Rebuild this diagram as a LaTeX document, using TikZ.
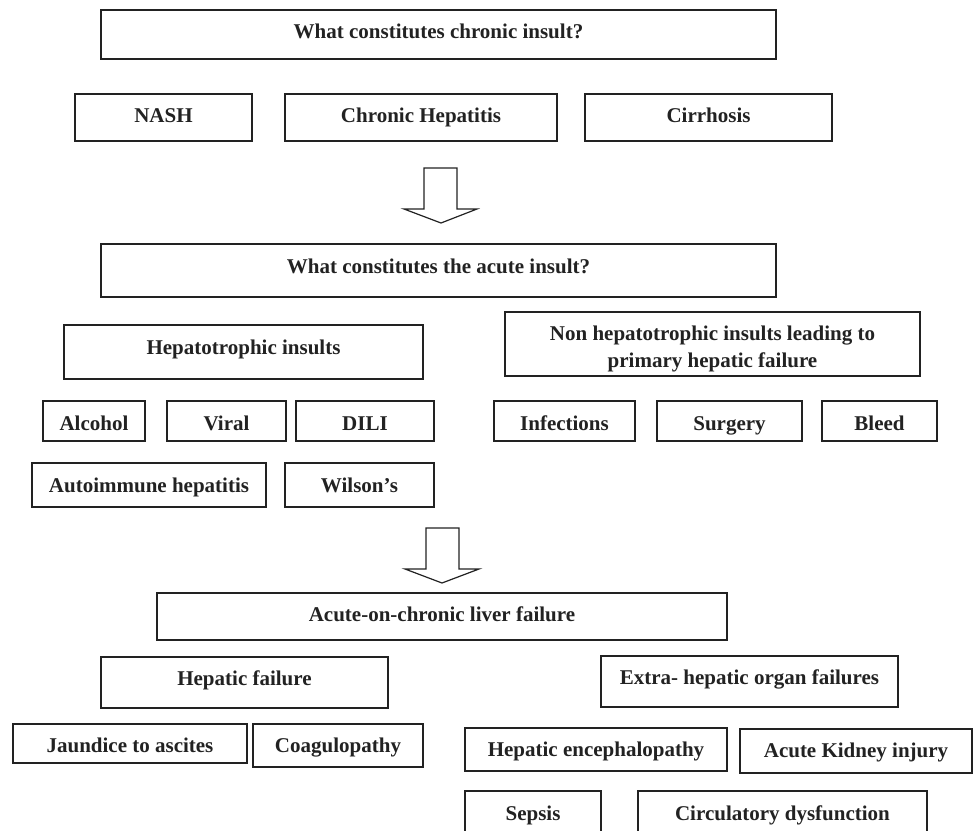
\documentclass[tikz,border=0pt]{standalone}
\usepackage{fontspec}
\setmainfont{Liberation Serif}
\definecolor{ink}{HTML}{222222}
\begin{document}
\begin{tikzpicture}[x=1pt,y=-1pt,
  box/.style={draw=ink, line width=1.2pt, inner sep=0pt, text=ink,
    font=\fontsize{21}{26.3}\selectfont\bfseries, align=center,
    text depth=4pt, text height=14pt},
  plaintext/.style={inner sep=0pt, text=ink,
    font=\fontsize{21}{26.3}\selectfont\bfseries, align=center},
  blockarrow/.style={draw=ink, line width=1.2pt, fill=white, line join=miter}]
\clip (0,0) rectangle (974,830);
\fill[white] (0,0) rectangle (974,830);
% row 1
\node[box, minimum width=675pt, minimum height=49pt, text height=12pt] (chronic) at (438.5,34.5) {What constitutes chronic insult?};
\node[box, minimum width=177pt, minimum height=47pt] (nash) at (163.5,117.5) {NASH};
\node[box, minimum width=272pt, minimum height=47pt] (chep) at (421,117.5) {Chronic Hepatitis};
\node[box, minimum width=247pt, minimum height=47pt] (cirr) at (708.5,117.5) {Cirrhosis};
% arrow 1
\draw[blockarrow] (424,168) -- (457,168) -- (457,209) -- (477,209) -- (441,223) -- (404,209) -- (424,209) -- cycle;
% acute
\node[box, minimum width=675pt, minimum height=53pt, text height=10pt] (acute) at (438.5,270.5) {What constitutes the acute insult?};
\node[box, minimum width=359pt, minimum height=54pt, text height=8pt] (hepato) at (243.5,352) {Hepatotrophic insults};
\node[box, minimum width=415pt, minimum height=64pt] (nonhep) at (712.5,344) {};
\node[plaintext] (nonheptext) at (712.5,349) {Non hepatotrophic insults leading to\\primary hepatic failure};
\node[box, minimum width=102pt, minimum height=40pt, text height=22pt] (alcohol) at (94,421) {Alcohol};
\node[box, minimum width=119pt, minimum height=40pt, text height=22pt] (viral) at (226.5,421) {Viral};
\node[box, minimum width=138pt, minimum height=40pt, text height=22pt] (dili) at (365,421) {DILI};
\node[box, minimum width=141pt, minimum height=40pt, text height=22pt] (infect) at (564.5,421) {Infections};
\node[box, minimum width=145pt, minimum height=40pt, text height=22pt] (surgery) at (729.5,421) {Surgery};
\node[box, minimum width=115pt, minimum height=40pt, text height=22pt] (bleed) at (879.5,421) {Bleed};
\node[box, minimum width=234pt, minimum height=44pt, text height=18pt] (autoimm) at (149,485) {Autoimmune hepatitis};
\node[box, minimum width=149pt, minimum height=44pt, text height=18pt] (wilson) at (359.5,485) {Wilson’s};
% arrow 2
\draw[blockarrow] (426,528) -- (459,528) -- (459,569) -- (479,569) -- (442,583) -- (405,569) -- (426,569) -- cycle;
% ACLF
\node[box, minimum width=570pt, minimum height=47pt, text height=14pt] (aclf) at (442,616.5) {Acute-on-chronic liver failure};
\node[box, minimum width=287pt, minimum height=51pt, text height=9pt] (hepfail) at (244.5,682.5) {Hepatic failure};
\node[box, minimum width=297pt, minimum height=51pt, text height=9pt] (extra) at (749.5,681.5) {Extra- hepatic organ failures};
\node[box, minimum width=234pt, minimum height=39pt, text height=22pt] (jaundice) at (130,743.5) {Jaundice to ascites};
\node[box, minimum width=170pt, minimum height=43pt, text height=18pt] (coag) at (338,745.5) {Coagulopathy};
\node[box, minimum width=262pt, minimum height=43pt, text height=18pt] (enceph) at (596,749.5) {Hepatic encephalopathy};
\node[box, minimum width=232pt, minimum height=44pt, text height=16pt] (aki) at (856,751) {Acute Kidney injury};
\node[box, minimum width=136pt, minimum height=50pt, text height=12pt] (sepsis) at (533,816) {Sepsis};
\node[box, minimum width=289pt, minimum height=50pt, text height=12pt] (circ) at (782.5,816) {Circulatory dysfunction};
\end{tikzpicture}
\end{document}
